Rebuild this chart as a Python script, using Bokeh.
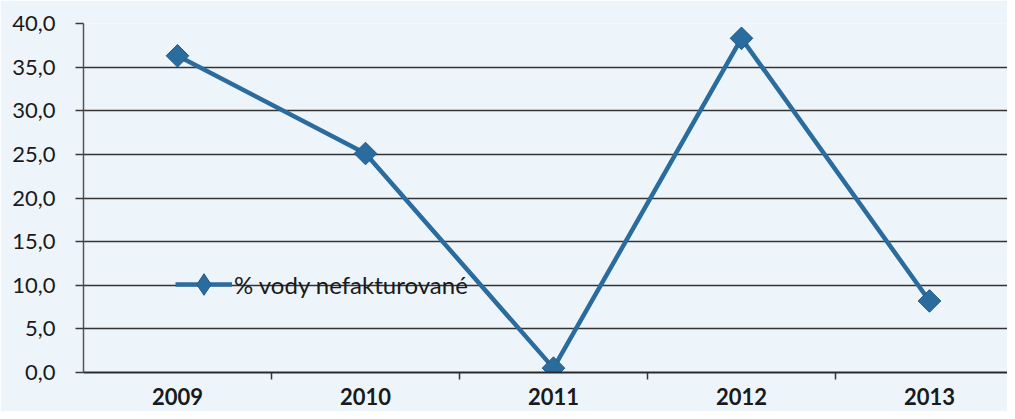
import math
from bokeh.plotting import figure
from bokeh.models import ColumnDataSource, FixedTicker, Range1d, Legend, LegendItem
from bokeh.embed import file_html
from bokeh.resources import INLINE

years = ["2009", "2010", "2011", "2012", "2013"]
values = [36.3, 25.1, 0.5, 38.3, 8.2]
series_name = "% vody nefakturované"
y_ticks = [0, 5, 10, 15, 20, 25, 30, 35, 40]
y_tick_labels = ["0,0", "5,0", "10,0", "15,0", "20,0", "25,0", "30,0", "35,0", "40,0"]

xs = list(range(len(years)))
src = ColumnDataSource(dict(x=xs, y=values))

BG = "#eef5fa"
LINE = "#2b6c9e"
FONT = "Lato"

p = figure(width=1007, height=411, output_backend="svg", toolbar_location=None,
           x_range=Range1d(-0.5, 4.415), y_range=Range1d(0, 40),
           min_border_left=83, min_border_right=0, min_border_top=23, min_border_bottom=39,
           background_fill_color=BG, border_fill_color=BG, outline_line_color=None)

r_line = p.line("x", "y", source=src, line_color=LINE, line_width=4.5)
r_pts = p.scatter("x", "y", source=src, marker="square", angle=math.pi / 4, size=16,
                  fill_color=LINE, line_color="#1f5a86", line_width=1)
# legend-only marker: its single point lies outside the visible ranges
leg_src = ColumnDataSource(dict(x=[-100], y=[-100]))
r_leg = p.scatter("x", "y", source=leg_src, marker="diamond", size=17,
                  fill_color=LINE, line_color="#1f5a86", line_width=1)

# axes
p.xaxis.ticker = FixedTicker(ticks=xs, minor_ticks=[0.5, 1.5, 2.5, 3.5])
p.xaxis.major_label_overrides = {i: y for i, y in enumerate(years)}
p.xaxis.major_tick_out = 0
p.xaxis.major_tick_in = 0
p.xaxis.minor_tick_out = 7
p.xaxis.minor_tick_in = 0
p.xaxis.minor_tick_line_color = "#333333"
p.xaxis.minor_tick_line_width = 1.5
p.xaxis.axis_line_color = "#2a2a2a"
p.xaxis.axis_line_width = 2
p.xaxis.major_label_standoff = 8
p.xaxis.major_label_text_font = FONT
p.xaxis.major_label_text_font_size = "22px"
p.xaxis.major_label_text_font_style = "bold"
p.xaxis.major_label_text_color = "#1a1a1a"

p.yaxis.ticker = FixedTicker(ticks=y_ticks, minor_ticks=[])
p.yaxis.major_label_overrides = {t: l for t, l in zip(y_ticks, y_tick_labels)}
p.yaxis.major_tick_out = 8
p.yaxis.major_tick_in = 0
p.yaxis.major_tick_line_color = "#3a3a3a"
p.yaxis.major_tick_line_width = 1.5
p.yaxis.axis_line_color = "#555555"
p.yaxis.axis_line_width = 1.5
p.yaxis.major_label_standoff = 20
p.yaxis.major_label_text_font = FONT
p.yaxis.major_label_text_font_size = "22px"
p.yaxis.major_label_text_color = "#1a1a1a"

p.xgrid.grid_line_color = None
p.ygrid.ticker = FixedTicker(ticks=y_ticks)
p.ygrid.grid_line_color = "#333333"
p.ygrid.grid_line_width = 1.6

legend = Legend(items=[LegendItem(label=series_name, renderers=[r_line, r_leg], index=0)],
                location=(92, 61), orientation="horizontal",
                background_fill_alpha=0, border_line_color=None,
                padding=0, margin=0, spacing=0,
                glyph_width=57, glyph_height=54, label_standoff=2,
                label_text_font=FONT, label_text_font_size="24px",
                label_text_color="#1a1a1a")
p.add_layout(legend, "center")

open("out.html", "w").write(file_html(p, INLINE))
